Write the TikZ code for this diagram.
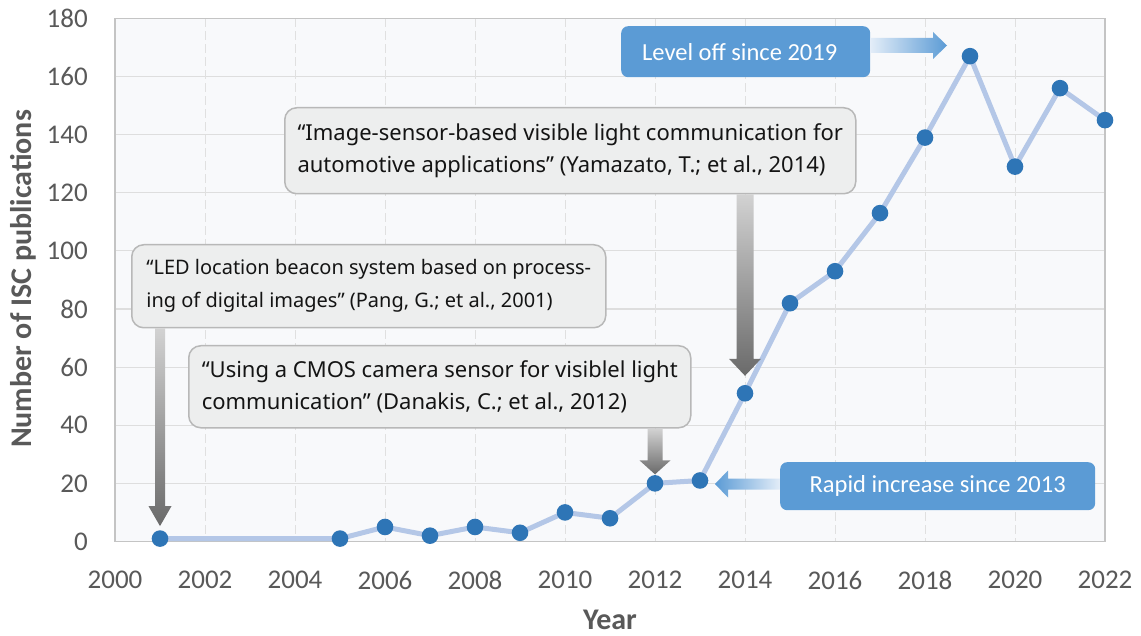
\documentclass[tikz,border=0pt]{standalone}
\usepackage{fontspec}
\setmainfont{Carlito}
\newfontfamily\notefont{Noto Sans}
\usetikzlibrary{calc}

\definecolor{axisgray}{HTML}{595959}
\definecolor{framegray}{HTML}{C4C4C4}
\definecolor{gridgray}{HTML}{DEDEDE}
\definecolor{vgridgray}{HTML}{E0E0E0}
\definecolor{plotbg}{HTML}{F8F9FB}
\definecolor{linelight}{HTML}{B4C7E7}
\definecolor{markblue}{HTML}{2E75B6}
\definecolor{calloutblue}{HTML}{5B9BD5}
\definecolor{calloutpale}{HTML}{E3EDF8}
\definecolor{notefill}{HTML}{EDEEEE}
\definecolor{noteborder}{HTML}{B8B8B8}
\definecolor{arrtop}{HTML}{D2D2D2}
\definecolor{arrbot}{HTML}{6A6A6A}

% vertical block arrow: start, tip, half shaft, half head, head length
\newcommand\vblockarrow[5]{%
  \shade[top color=arrtop, bottom color=arrbot] let \p1=(#1), \p2=(#2) in
    ({\x1-#3},\y1) -- ({\x1-#3},{\y2+#5}) -- ({\x1-#4},{\y2+#5}) -- (\x1,\y2)
    -- ({\x1+#4},{\y2+#5}) -- ({\x1+#3},{\y2+#5}) -- ({\x1+#3},\y1) -- cycle;}
% horizontal block arrow: start, tip, half shaft, half head, signed head length, shading
\newcommand\hblockarrow[6]{%
  \shade[#6] let \p1=(#1), \p2=(#2) in
    (\x1,{\y2+#3}) -- ({\x2-(#5)},{\y2+#3}) -- ({\x2-(#5)},{\y2+#4}) -- (\x2,\y2)
    -- ({\x2-(#5)},{\y2-#4}) -- ({\x2-(#5)},{\y2-#3}) -- (\x1,{\y2-#3}) -- cycle;}

\begin{document}
\begin{tikzpicture}[x=1pt,y=-1pt,
  gridline/.style={draw=gridgray, line width=1.2pt},
  vgridline/.style={draw=vgridgray, line width=1pt, dash pattern=on 9pt off 4pt},
  frameline/.style={draw=framegray, line width=1.6pt},
  ticklab/.style={text=axisgray, font=\fontsize{27pt}{32pt}\selectfont, inner sep=0pt},
  axistitle/.style={text=axisgray, font=\bfseries\fontsize{30pt}{36pt}\selectfont, inner sep=0pt},
  dataline/.style={draw=linelight, line width=5pt, line join=round},
  marker/.style={circle, fill=markblue, minimum size=16.6pt, inner sep=0pt},
  notebox/.style={draw=noteborder, line width=1.5pt, fill=notefill, rounded corners=12pt,
    align=left, text=black!92, anchor=north west, inner xsep=0pt},
  callout/.style={fill=calloutblue, rounded corners=7pt, text=white, anchor=north west,
    font=\fontsize{24.5pt}{30pt}\selectfont},
]
\useasboundingbox (0,0) rectangle (1141,636);
\fill[white] (0,0) rectangle (1141,636);

% plot area and grid
\fill[plotbg] (115,{541.5-2.906*180}) rectangle (1105,541.5);
\foreach \v in {20,40,...,160}
  \draw[gridline] (115,{541.5-2.906*\v}) -- (1105,{541.5-2.906*\v});
\foreach \yr in {2002,2004,...,2020}
  \draw[vgridline] ({115+45*(\yr-2000)},{541.5-2.906*180}) -- ({115+45*(\yr-2000)},541.5);
\draw[frameline] (115,{541.5-2.906*180}) rectangle (1105,541.5);

% tick labels
\foreach \v in {0,20,...,180}
  \node[ticklab, anchor=east] (yt\v) at (88,{541.5-2.906*\v}) {\v};
\foreach \yr in {2000,2002,...,2022}
  \node[ticklab] (xt\yr) at ({115+45*(\yr-2000)},580) {\yr};

% axis titles
\node[axistitle] (xtitle) at (610,619.5) {Year};
\node[axistitle, rotate=90] (ytitle) at (23,279) {Number of ISC publications};

% data
\foreach \yr/\v in {2001/1,2005/1,2006/5,2007/2,2008/5,2009/3,2010/10,2011/8,2012/20,
  2013/21,2014/51,2015/82,2016/93,2017/113,2018/139,2019/167,2020/129,2021/156,2022/145}
  \coordinate (c\yr) at ({115+45*(\yr-2000)},{541.5-2.906*\v});
\draw[dataline] (c2001) \foreach \yr in {2005,2006,...,2022} { -- (c\yr) };
\foreach \yr in {2001,2005,2006,...,2022}
  \node[marker] (p\yr) at (c\yr) {};

% publication notes
\node[notebox, minimum width=474pt, minimum height=83pt,
  font={\notefont\fontsize{20pt}{33pt}\selectfont}] (b1) at (131,244)
  {“LED location beacon system based on process-\\ing of digital images” (Pang, G.; et al., 2001)};
\node[notebox, minimum width=502pt, minimum height=82pt,
  font={\notefont\fontsize{22pt}{32pt}\selectfont}] (b2) at (188,345)
  {“Using a CMOS camera sensor for visiblel light\\communication” (Danakis, C.; et al., 2012)};
\node[notebox, minimum width=571pt, minimum height=86pt,
  font={\notefont\fontsize{22pt}{32pt}\selectfont}] (b3) at (284,107)
  {“Image-sensor-based visible light communication for\\automotive applications” (Yamazato, T.; et al., 2014)};

% trend callouts
\node[callout, minimum width=249pt, minimum height=51pt] (lvl) at (621,26)
  {\hspace*{-12pt}Level off since 2019};
\node[callout, minimum width=315pt, minimum height=48pt] (rap) at (780,462) {Rapid increase since 2013};

% arrows from notes to their publication years
\vblockarrow{b1.south -| p2001}{[yshift=4pt]p2001.north}{5pt}{11.5pt}{20pt}
\vblockarrow{b2.south -| p2012}{[yshift=0.5pt]p2012.north}{7.5pt}{15.5pt}{14pt}
\vblockarrow{b3.south -| p2014}{[yshift=9pt]p2014.north}{8.5pt}{16pt}{17pt}

% arrows from trend callouts
\coordinate (lvltip) at (947,45.5);
\hblockarrow{lvl.east |- lvltip}{lvltip}{7.5pt}{13.5pt}{14pt}{left color=calloutpale, right color=calloutblue}
\coordinate (raptip) at (715,484);
\hblockarrow{rap.west |- raptip}{raptip}{5.5pt}{13.5pt}{-13pt}{left color=calloutblue, right color=calloutpale}
\end{tikzpicture}
\end{document}
